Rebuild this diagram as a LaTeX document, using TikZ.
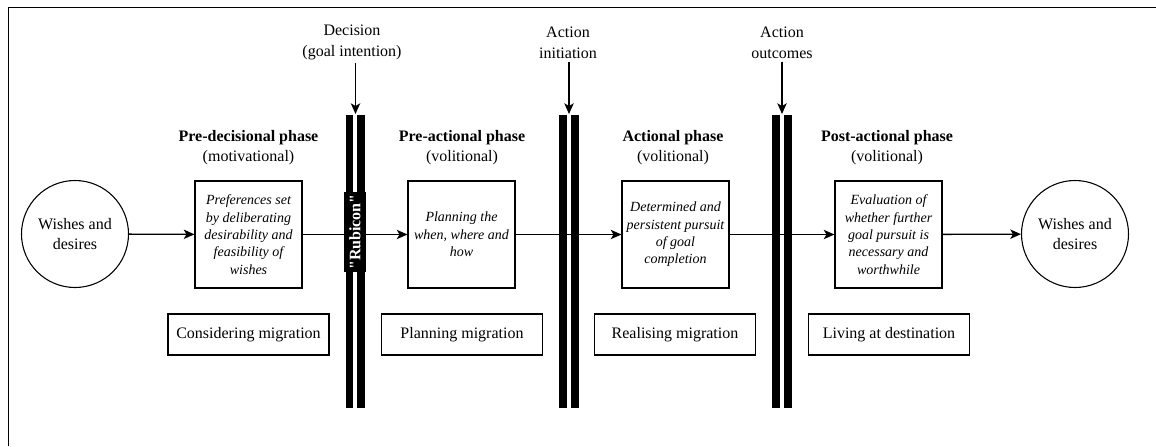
\documentclass[tikz,border=0pt]{standalone}
\usepackage{fontspec}
\setmainfont{Liberation Serif}
\newfontfamily\plainserif{Liberation Serif}[Ligatures=TeXOff]
\usetikzlibrary{arrows.meta}
\tikzset{
  px/.style={x=0.75pt,y=-0.75pt},
  phasebox/.style={draw,line width=0.8pt,minimum width=80.25pt,minimum height=80.25pt,
    inner sep=1pt,align=center,font=\fontsize{10.5}{13}\selectfont\itshape},
  actbox/.style={draw,line width=0.8pt,minimum width=120.75pt,minimum height=30.75pt,
    inner sep=1pt,font=\fontsize{12}{15}\selectfont},
  wish/.style={draw,circle,line width=0.8pt,minimum size=80.25pt,inner sep=0pt,align=center,
    font=\fontsize{12}{15}\selectfont},
  title/.style={align=center,font=\fontsize{12}{15}\selectfont,inner sep=0pt},
  toplabel/.style={align=center,font=\fontsize{12}{15.75}\selectfont,inner sep=0pt},
  flow/.style={line width=1pt,-{Stealth[length=8pt,width=7pt,inset=2pt]}},
  barfill/.style={fill=black},
  rubicon/.style={fill=black,text=white,rotate=90,font=\fontsize{12}{15}\plainserif\bfseries,
    minimum width=60pt,minimum height=17pt,inner sep=1pt}
}
\begin{document}
\begin{tikzpicture}[px]
\useasboundingbox (0,0) rectangle (1156,446);
% frame
\draw[line width=1pt] (8.5,446) -- (8.5,7.5) -- (1156,7.5);

% circles
\node[wish] (w1) at (75,234) {Wishes and\\desires};
\node[wish] (w2) at (1075,234) {Wishes and\\desires};

% phase boxes
\node[phasebox] (p1) at (248.5,234.5) {Preferences set\\by deliberating\\desirability and\\feasibility of\\wishes};
\node[phasebox] (p2) at (461.5,234.5) {Planning the\\when, where and\\how};
\node[phasebox] (p3) at (675.5,234.5) {Determined and\\persistent pursuit\\of goal\\completion};
\node[phasebox] (p4) at (888.5,234.5) {Evaluation of\\whether further\\goal pursuit is\\necessary and\\worthwhile};

% titles
\node[title] (t1) at (248.5,148) {\textbf{Pre-decisional phase}\\(motivational)};
\node[title] (t2) at (462,148) {\textbf{Pre-actional phase}\\(volitional)};
\node[title] (t3) at (673,148) {\textbf{Actional phase}\\(volitional)};
\node[title] (t4) at (887,148) {\textbf{Post-actional phase}\\(volitional)};

% activity boxes
\node[actbox] (a1) at (248.5,334.5) {Considering migration};
\node[actbox] (a2) at (462,334.5) {Planning migration};
\node[actbox] (a3) at (675,334.5) {Realising migration};
\node[actbox] (a4) at (889,334.5) {Living at destination};

% flow arrows
\draw[flow] (w1) -- (p1);
\draw[flow] (p1) -- (p2);
\draw[flow] (p2) -- (p3);
\draw[flow] (p3) -- (p4);
\draw[flow] (p4) -- (w2);

% bars
\path[barfill] (346,115) rectangle (353,408);
\path[barfill] (357,115) rectangle (364.5,408);
\path[barfill] (559,115) rectangle (567,408);
\path[barfill] (571,115) rectangle (579,408);
\path[barfill] (772,115) rectangle (780,408);
\path[barfill] (784,115) rectangle (792,408);
\coordinate (b1) at (355.5,114);
\coordinate (b2) at (569,114);
\coordinate (b3) at (782,114);

\node[rubicon] (rub) at (355,232) {"Rubicon"};

% top labels
\node[toplabel] (d1) at (352,42.5) {Decision\\(goal intention)};
\node[toplabel] (d2) at (568,42.5) {Action\\initiation};
\node[toplabel] (d3) at (782,42.5) {Action\\outcomes};
\draw[flow] (d1.south -| b1) ++(0,3) -- (b1);
\draw[flow] (d2.south -| b2) ++(0,3) -- (b2);
\draw[flow] (d3.south -| b3) ++(0,3) -- (b3);
\end{tikzpicture}
\end{document}
